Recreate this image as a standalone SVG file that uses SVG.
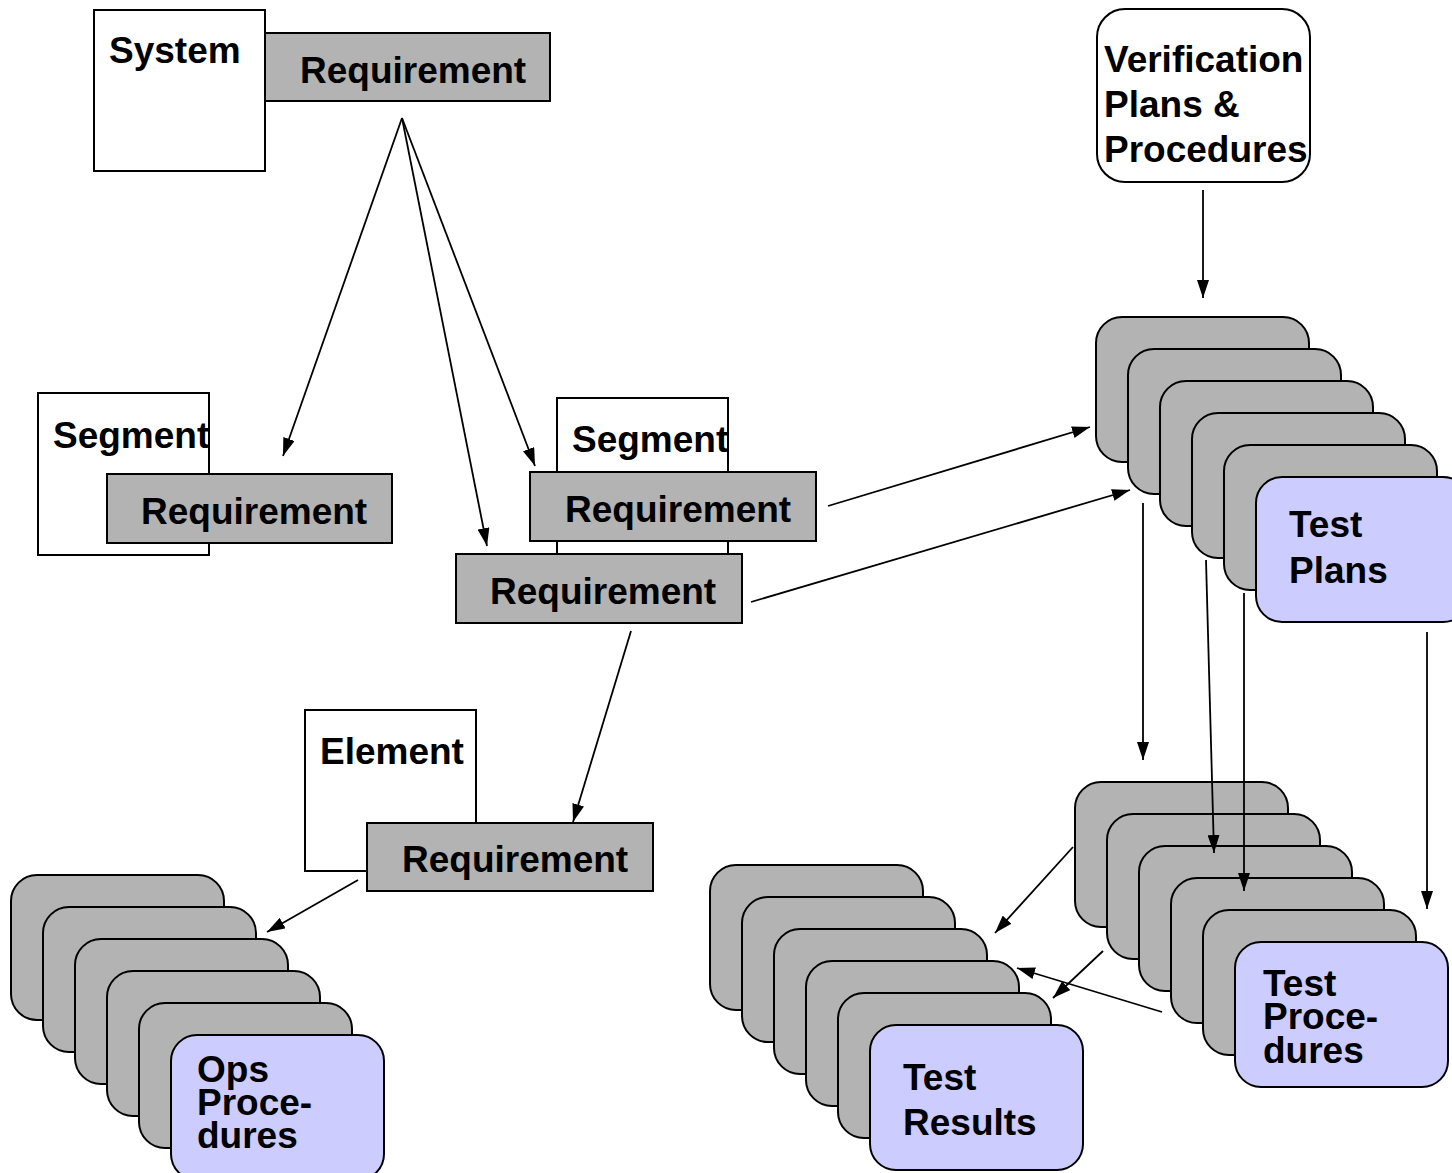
<svg xmlns="http://www.w3.org/2000/svg" width="1452" height="1173" viewBox="0 0 1452 1173">
  <style>
    .lbl { font-family: "Liberation Sans", Arial, sans-serif; font-weight: bold; font-size: 37px; fill: #000; }
    .box { fill: #fff; stroke: #000; stroke-width: 2; }
    .req { fill: #b3b3b3; stroke: #000; stroke-width: 2; }
    .card { fill: #b3b3b3; stroke: #000; stroke-width: 2; }
    .front { fill: #ccccff; stroke: #000; stroke-width: 2; }
    .conn line { stroke: #000; stroke-width: 1.8; marker-end: url(#arrow); }
  </style>
  <defs>
    <marker id="arrow" viewBox="0 0 18 12" refX="18" refY="6" markerWidth="18" markerHeight="12" markerUnits="userSpaceOnUse" orient="auto">
      <path d="M0,0 L18,6 L0,12 Z" fill="#000"/>
    </marker>
    <rect id="stackCard" width="213" height="145" rx="26" ry="26"/>
  </defs>

  <rect width="1452" height="1173" fill="#fff"/>

  <!-- System level -->
  <g id="system">
    <rect class="box" x="94" y="10" width="171" height="161"/>
    <text class="lbl" x="109" y="63">System</text>
  </g>
  <g id="system-req">
    <rect class="req" x="265" y="33" width="285" height="68"/>
    <text class="lbl" x="300" y="83">Requirement</text>
  </g>

  <!-- Left segment -->
  <g id="segment-left">
    <rect class="box" x="38" y="393" width="171" height="162"/>
    <text class="lbl" x="53" y="448">Segment</text>
  </g>
  <g id="segment-left-req">
    <rect class="req" x="107" y="474" width="285" height="69"/>
    <text class="lbl" x="141" y="524">Requirement</text>
  </g>

  <!-- Right segment -->
  <g id="segment-right">
    <rect class="box" x="557" y="398" width="171" height="157"/>
    <text class="lbl" x="572" y="452">Segment</text>
  </g>
  <g id="segment-right-req">
    <rect class="req" x="530" y="472" width="286" height="69"/>
    <text class="lbl" x="565" y="522">Requirement</text>
  </g>
  <g id="segment-right-req2">
    <rect class="req" x="456" y="554" width="286" height="69"/>
    <text class="lbl" x="490" y="604">Requirement</text>
  </g>

  <!-- Element -->
  <g id="element">
    <rect class="box" x="305" y="710" width="171" height="161"/>
    <text class="lbl" x="320" y="764">Element</text>
  </g>
  <g id="element-req">
    <rect class="req" x="367" y="823" width="286" height="68"/>
    <text class="lbl" x="402" y="872">Requirement</text>
  </g>

  <!-- Verification plans & procedures -->
  <g id="verification">
    <rect class="box" x="1097" y="9" width="213" height="173" rx="28" ry="28"/>
    <text class="lbl" x="1104" y="72">Verification</text>
    <text class="lbl" x="1104" y="117">Plans &amp;</text>
    <text class="lbl" x="1104" y="162">Procedures</text>
  </g>

  <!-- Ops procedures stack -->
  <g id="ops-procedures">
    <use href="#stackCard" class="card" x="11" y="875"/>
    <use href="#stackCard" class="card" x="43" y="907"/>
    <use href="#stackCard" class="card" x="75" y="939"/>
    <use href="#stackCard" class="card" x="107" y="971"/>
    <use href="#stackCard" class="card" x="139" y="1003"/>
    <use href="#stackCard" class="front" x="171" y="1035"/>
    <text class="lbl" x="197" y="1082">Ops</text>
    <text class="lbl" x="197" y="1115">Proce-</text>
    <text class="lbl" x="197" y="1148">dures</text>
  </g>

  <!-- Test plans stack -->
  <g id="test-plans">
    <use href="#stackCard" class="card" x="1096" y="317"/>
    <use href="#stackCard" class="card" x="1128" y="349"/>
    <use href="#stackCard" class="card" x="1160" y="381"/>
    <use href="#stackCard" class="card" x="1192" y="413"/>
    <use href="#stackCard" class="card" x="1224" y="445"/>
    <use href="#stackCard" class="front" x="1256" y="477"/>
    <text class="lbl" x="1289" y="537">Test</text>
    <text class="lbl" x="1289" y="583">Plans</text>
  </g>

  <!-- Test procedures stack -->
  <g id="test-procedures">
    <use href="#stackCard" class="card" x="1075" y="782"/>
    <use href="#stackCard" class="card" x="1107" y="814"/>
    <use href="#stackCard" class="card" x="1139" y="846"/>
    <use href="#stackCard" class="card" x="1171" y="878"/>
    <use href="#stackCard" class="card" x="1203" y="910"/>
    <use href="#stackCard" class="front" x="1235" y="942"/>
    <text class="lbl" x="1263" y="996">Test</text>
    <text class="lbl" x="1263" y="1029">Proce-</text>
    <text class="lbl" x="1263" y="1063">dures</text>
  </g>

  <!-- Test results stack -->
  <g id="test-results">
    <use href="#stackCard" class="card" x="710" y="865"/>
    <use href="#stackCard" class="card" x="742" y="897"/>
    <use href="#stackCard" class="card" x="774" y="929"/>
    <use href="#stackCard" class="card" x="806" y="961"/>
    <use href="#stackCard" class="card" x="838" y="993"/>
    <use href="#stackCard" class="front" x="870" y="1025"/>
    <text class="lbl" x="903" y="1090">Test</text>
    <text class="lbl" x="903" y="1135">Results</text>
  </g>

  <!-- Connectors -->
  <g id="connectors" class="conn">
    <line x1="402" y1="118" x2="283" y2="456"/>
    <line x1="402" y1="118" x2="487" y2="546"/>
    <line x1="402" y1="118" x2="535" y2="466"/>
    <line x1="828" y1="506" x2="1090" y2="427"/>
    <line x1="751" y1="602" x2="1130" y2="490"/>
    <line x1="631" y1="631" x2="573" y2="822"/>
    <line x1="358" y1="880" x2="267" y2="932"/>
    <line x1="1203" y1="190" x2="1203" y2="298"/>
    <line x1="1143" y1="503" x2="1143" y2="760"/>
    <line x1="1206" y1="560" x2="1214" y2="853"/>
    <line x1="1244" y1="593" x2="1244" y2="891"/>
    <line x1="1427" y1="632" x2="1427" y2="909"/>
    <line x1="1073" y1="847" x2="995" y2="933"/>
    <line x1="1103" y1="951" x2="1053" y2="998"/>
    <line x1="1162" y1="1012" x2="1017" y2="968"/>
  </g>
</svg>
